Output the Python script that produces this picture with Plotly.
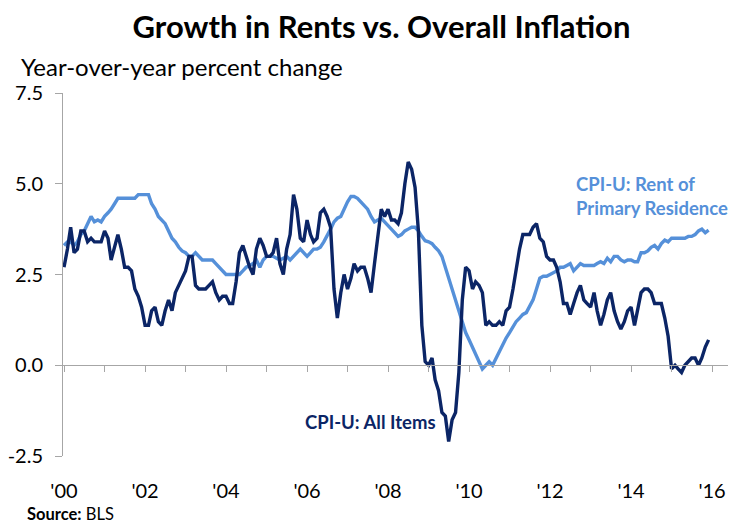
import plotly.graph_objects as go
import pandas as pd

# ---------------- data (monthly, Jan 2000 - Dec 2015, YoY % change) ----------------
months = pd.date_range("2000-01-01", "2015-12-01", freq="MS")

cpi_all_items = [
    2.7, 3.2, 3.8, 3.1, 3.2, 3.7, 3.7, 3.4, 3.5, 3.4, 3.4, 3.4,   # 2000
    3.7, 3.5, 2.9, 3.3, 3.6, 3.2, 2.7, 2.7, 2.6, 2.1, 1.9, 1.6,   # 2001
    1.1, 1.1, 1.5, 1.6, 1.2, 1.1, 1.5, 1.8, 1.5, 2.0, 2.2, 2.4,   # 2002
    2.6, 3.0, 3.0, 2.2, 2.1, 2.1, 2.1, 2.2, 2.3, 2.0, 1.8, 1.9,   # 2003
    1.9, 1.7, 1.7, 2.3, 3.1, 3.3, 3.0, 2.7, 2.5, 3.2, 3.5, 3.3,   # 2004
    3.0, 3.0, 3.1, 3.5, 2.8, 2.5, 3.2, 3.6, 4.7, 4.3, 3.5, 3.4,   # 2005
    4.0, 3.6, 3.4, 3.5, 4.2, 4.3, 4.1, 3.8, 2.1, 1.3, 2.0, 2.5,   # 2006
    2.1, 2.4, 2.8, 2.6, 2.7, 2.7, 2.4, 2.0, 2.8, 3.5, 4.3, 4.1,   # 2007
    4.3, 4.0, 4.0, 3.9, 4.2, 5.0, 5.6, 5.4, 4.9, 3.7, 1.1, 0.1,   # 2008
    0.0, 0.2, -0.4, -0.7, -1.3, -1.4, -2.1, -1.5, -1.3, -0.2, 1.8, 2.7,  # 2009
    2.6, 2.1, 2.3, 2.2, 2.0, 1.1, 1.2, 1.1, 1.1, 1.2, 1.1, 1.5,   # 2010
    1.6, 2.1, 2.7, 3.2, 3.6, 3.6, 3.6, 3.8, 3.9, 3.5, 3.4, 3.0,   # 2011
    2.9, 2.9, 2.7, 2.3, 1.7, 1.7, 1.4, 1.7, 2.0, 2.2, 1.8, 1.7,   # 2012
    1.6, 2.0, 1.5, 1.1, 1.4, 1.8, 2.0, 1.5, 1.2, 1.0, 1.2, 1.5,   # 2013
    1.6, 1.1, 1.5, 2.0, 2.1, 2.1, 2.0, 1.7, 1.7, 1.7, 1.3, 0.8,   # 2014
    -0.1, 0.0, -0.1, -0.2, 0.0, 0.1, 0.2, 0.2, 0.0, 0.2, 0.5, 0.7,  # 2015
]

cpi_rent = [
    3.3, 3.4, 3.4, 3.3, 3.4, 3.6, 3.7, 3.9, 4.1, 3.95, 4.0, 3.95,      # 2000
    4.1, 4.2, 4.3, 4.45, 4.6, 4.6, 4.6, 4.6, 4.6, 4.6, 4.7, 4.7,       # 2001
    4.7, 4.7, 4.45, 4.3, 4.1, 4.0, 3.9, 3.7, 3.5, 3.4, 3.25, 3.15,     # 2002
    3.1, 3.0, 3.0, 3.1, 3.0, 2.9, 2.9, 2.9, 2.9, 2.8, 2.7, 2.6,        # 2003
    2.5, 2.5, 2.5, 2.5, 2.5, 2.6, 2.7, 2.75, 2.8, 2.9, 2.7, 2.9,       # 2004
    3.0, 3.0, 3.0, 2.95, 2.9, 2.95, 3.0, 2.9, 3.0, 3.1, 3.2, 3.1,      # 2005
    3.0, 3.1, 3.2, 3.2, 3.25, 3.4, 3.6, 3.75, 3.95, 4.05, 4.1, 4.3,    # 2006
    4.5, 4.65, 4.65, 4.6, 4.5, 4.4, 4.3, 4.1, 3.95, 4.0, 4.05, 3.95,   # 2007
    3.85, 3.75, 3.65, 3.55, 3.6, 3.7, 3.75, 3.8, 3.8, 3.7, 3.55, 3.43, # 2008
    3.4, 3.35, 3.25, 3.15, 3.0, 2.7, 2.4, 2.1, 1.8, 1.5, 1.2, 0.9,     # 2009
    0.7, 0.5, 0.3, 0.1, -0.1, 0.0, 0.1, 0.0, 0.2, 0.4, 0.6, 0.75,      # 2010
    0.9, 1.05, 1.2, 1.3, 1.4, 1.45, 1.6, 1.8, 2.1, 2.4, 2.45, 2.45,    # 2011
    2.5, 2.55, 2.6, 2.7, 2.7, 2.75, 2.8, 2.6, 2.7, 2.8, 2.75, 2.75,    # 2012
    2.75, 2.75, 2.8, 2.85, 2.8, 2.95, 2.85, 3.0, 3.0, 2.9, 2.85, 2.9,  # 2013
    2.9, 2.85, 2.85, 3.1, 3.1, 3.15, 3.25, 3.3, 3.2, 3.35, 3.45, 3.4,  # 2014
    3.5, 3.5, 3.5, 3.5, 3.5, 3.55, 3.55, 3.6, 3.7, 3.75, 3.65, 3.72,   # 2015
]

x_tick_dates = ["2000-01-01", "2002-01-01", "2004-01-01", "2006-01-01", "2008-01-01",
                "2010-01-01", "2012-01-01", "2014-01-01", "2016-01-01"]
x_tick_labels = ["'00", "'02", "'04", "'06", "'08", "'10", "'12", "'14", "'16"]
y_tick_values = [-2.5, 0.0, 2.5, 5.0, 7.5]
y_tick_labels = ["-2.5", "0.0", "2.5", "5.0", "7.5"]

title_text = "Growth in Rents vs. Overall Inflation"
y_title_text = "Year-over-year percent change"
rent_label = "CPI-U: Rent of<br>Primary Residence"
all_label = "CPI-U: All Items"
source_text = "<b>Source:</b> BLS"

# ---------------- styling ----------------
NAVY = "#0B2566"
LIGHT = "#5590D9"
AXIS_GRAY = "#A6A6A6"
FONT = "Lato"
x_range = ["1999-12-23", "2016-05-24"]

W, H = 739, 525
L, R, T, B = 55, 19, 85, 77
PW, PH = W - L - R, H - T - B

fig = go.Figure()
fig.add_trace(go.Scatter(x=months, y=cpi_rent, mode="lines",
                         line=dict(color=LIGHT, width=3.4), name="Rent", showlegend=False))
fig.add_trace(go.Scatter(x=months, y=cpi_all_items, mode="lines",
                         line=dict(color=NAVY, width=3.4), name="All items", showlegend=False))
# invisible trace to register the zero-line axis
fig.add_trace(go.Scatter(x=months[:1], y=[0], xaxis="x2", mode="lines",
                         line=dict(width=0), hoverinfo="skip", showlegend=False))

fig.update_layout(
    width=W, height=H,
    margin=dict(l=L, r=R, t=T, b=B, autoexpand=False),
    paper_bgcolor="white", plot_bgcolor="white",
    font=dict(family=FONT, color="#000000"),
    title=dict(text="<b>" + title_text + "</b>", x=373.5 / W, xref="container", xanchor="center",
               y=1 - 19 / H, yref="container", yanchor="middle",
               font=dict(size=31, family=FONT, color="#000000")),
    xaxis=dict(type="date", range=x_range, tickvals=x_tick_dates, ticktext=x_tick_labels,
               automargin=False,
               showline=False, showgrid=False, zeroline=False, ticks="",
               ticklabelstandoff=21, tickfont=dict(size=20, family=FONT, color="#000000")),
    xaxis2=dict(type="date", range=x_range, overlaying="x", anchor="free", position=0.25,
                automargin=False,
                showline=True, linecolor=AXIS_GRAY, linewidth=1,
                ticks="outside", ticklen=6, tickcolor=AXIS_GRAY, tickwidth=1,
                dtick="M12", tick0="2000-01-01", showticklabels=False,
                showgrid=False, zeroline=False),
    yaxis=dict(range=[-2.5, 7.5], tickvals=y_tick_values, ticktext=y_tick_labels,
               automargin=False,
               showline=True, linecolor=AXIS_GRAY, linewidth=1,
               ticks="outside", ticklen=7, tickcolor=AXIS_GRAY, tickwidth=1,
               showgrid=False, zeroline=False, ticklabelstandoff=8,
               tickfont=dict(size=20, family=FONT, color="#000000")),
)

fig.add_annotation(text=y_title_text, xref="paper", yref="paper",
                   x=(11 - L) / PW, y=(H - B - 58) / PH, xanchor="left", yanchor="middle",
                   showarrow=False, font=dict(size=24, family=FONT, color="#000000"))
fig.add_annotation(text="<b>" + rent_label + "</b>", x="2012-08-01", y=4.66,
                   xanchor="left", yanchor="middle", align="left", showarrow=False,
                   font=dict(size=18.5, family=FONT, color=LIGHT))
fig.add_annotation(text="<b>" + all_label + "</b>", x="2005-11-25", y=-1.57,
                   xanchor="left", yanchor="middle", showarrow=False,
                   font=dict(size=18.5, family=FONT, color=NAVY))
fig.add_annotation(text=source_text, xref="paper", yref="paper",
                   x=(17 - L) / PW, y=(H - B - 506) / PH, xanchor="left", yanchor="middle",
                   showarrow=False, font=dict(size=16.5, family=FONT, color="#000000"))

fig.write_html("out.html")
